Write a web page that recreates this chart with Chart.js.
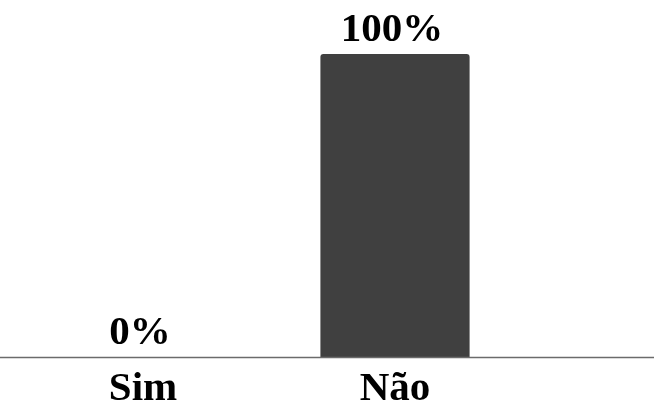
<!DOCTYPE html>
<html>
<head>
<meta charset="utf-8">
<script src="https://cdn.jsdelivr.net/npm/chart.js@4"></script>
<style>
  html, body { margin: 0; padding: 0; background: #ffffff; }
  #wrap { width: 654px; height: 405px; position: relative; }
</style>
</head>
<body>
<div id="wrap"><canvas id="chart"></canvas></div>
<script>
// Answer categories and their share of responses (%)
const categories = ['Sim', 'Não'];
const percentages = [0, 100];

const FONT = "'Liberation Serif', 'Times New Roman', serif";

// Baseline drawn across the full width at the zero value
const baselinePlugin = {
  id: 'baseline',
  afterDatasetsDraw(chart) {
    const { ctx, scales } = chart;
    const y = Math.round(scales.y.getPixelForValue(0)) + 0.5;
    ctx.save();
    ctx.strokeStyle = '#6b6b6b';
    ctx.lineWidth = 1.6;
    ctx.beginPath();
    ctx.moveTo(0, y);
    ctx.lineTo(chart.width, y);
    ctx.stroke();
    ctx.restore();
  }
};

// Percentage label above each bar
const valueLabelPlugin = {
  id: 'valueLabels',
  afterDatasetsDraw(chart) {
    const { ctx } = chart;
    const meta = chart.getDatasetMeta(0);
    ctx.save();
    ctx.font = 'bold 41px ' + FONT;
    ctx.fillStyle = '#000000';
    ctx.textAlign = 'center';
    ctx.textBaseline = 'alphabetic';
    meta.data.forEach((bar, i) => {
      ctx.fillText(percentages[i] + '%', bar.x - 3, bar.y - 13);
    });
    ctx.restore();
  }
};

new Chart(document.getElementById('chart'), {
  type: 'bar',
  data: {
    labels: categories,
    datasets: [{
      data: percentages,
      backgroundColor: '#404040',
      borderRadius: { topLeft: 3, topRight: 3 },
      borderSkipped: 'bottom',
      categoryPercentage: 0.8,
      barPercentage: 0.74
    }]
  },
  options: {
    responsive: true,
    maintainAspectRatio: false,
    animation: false,
    layout: { padding: { top: 54, left: 17, right: 133, bottom: 0 } },
    plugins: {
      legend: { display: false },
      tooltip: { enabled: false }
    },
    scales: {
      x: {
        grid: { display: false },
        border: { display: false },
        ticks: {
          color: '#000000',
          padding: 2,
          font: { family: FONT, size: 41, weight: 'bold', lineHeight: 1.1 }
        },
        afterFit(scale) { scale.height = 48; }
      },
      y: {
        display: false,
        min: 0,
        max: 100
      }
    }
  },
  plugins: [baselinePlugin, valueLabelPlugin]
});
</script>
</body>
</html>
